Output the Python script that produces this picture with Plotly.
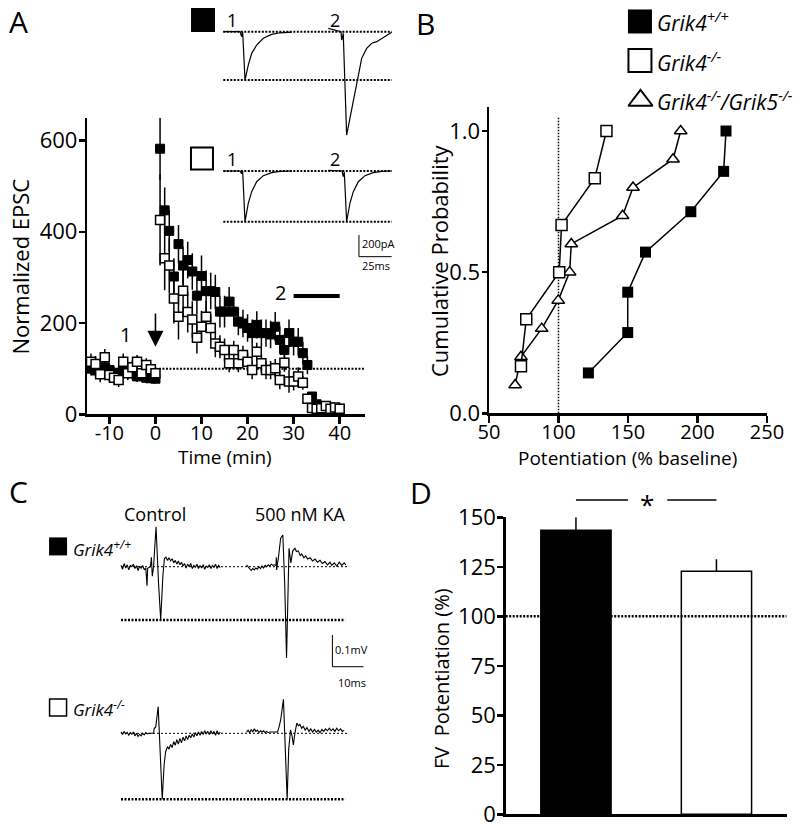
import plotly.graph_objects as go

W, H = 800, 827          # browser window (reference pixel space)
OFF = 0                  # body margin removed by post_script below
FW, FH = W - OFF, H - OFF
FONT = "Open Sans"

# ---------------- DATA ----------------
# Panel A: normalized EPSC time course
a_time_base = [-14, -13, -12, -11, -10, -9, -8, -7, -6, -5, -4, -3, -2, -1, 0]
a_time_post = list(range(1, 41))
a_wt_base = [100, 96, 92, 103, 97, 90, 91, 99, 94, 90, 83, 88, 80, 79, 78]
a_wt_base_err = [15, 15, 15, 15, 15, 15, 15, 15, 15, 15, 12, 12, 12, 10, 10]
a_wt_post = [582, 447, 402, 302, 373, 326, 338, 313, 260, 303, 270, 270, 268, 225,
             225, 247, 225, 203, 199, 189, 178, 196, 178, 178, 175, 192, 163, 141,
             178, 159, 159, 134, 108, 39, 22, 12, 8, 15, 8, 12]
a_wt_post_err = [68, 50, 45, 40, 42, 42, 40, 40, 40, 45, 45, 40, 38, 35, 35, 32,
                 32, 30, 30, 30, 30, 30, 30, 30, 30, 32, 30, 35, 30, 30, 30, 25,
                 20, 10, 8, 8, 8, 8, 8, 8]
a_ko_base = [115, 110, 88, 125, 86, 80, 75, 115, 90, 103, 115, 90, 108, 99, 90]
a_ko_base_err = [18, 18, 18, 18, 15, 15, 15, 18, 15, 15, 15, 15, 15, 12, 12]
a_ko_post = [426, 342, 326, 254, 214, 271, 224, 208, 168, 192, 214, 189, 155, 148,
             141, 112, 141, 112, 130, 115, 97, 137, 112, 97, 97, 101, 75, 113, 72,
             72, 83, 69, 34, 14, 12, 13, 18, 12, 15, 12]
a_ko_post_err = [100, 70, 60, 55, 50, 50, 45, 40, 35, 35, 35, 30, 30, 25, 25, 20,
                 20, 20, 20, 20, 20, 20, 20, 20, 20, 20, 20, 20, 25, 20, 20, 15,
                 10, 8, 8, 8, 8, 8, 8, 8]
a_baseline_level = 100
a_period2 = [30, 40]
a_ticks_x = [-10, 0, 10, 20, 30, 40]
a_ticktext_x = ["-10", "0", "10", "20", "30", "40"]
a_ticks_y = [0, 200, 400, 600]

# Panel A insets: example EPSC traces (ms, pA)
ins_wt1_t = [0, 12.8, 14.0, 14.8, 16.6, 19.1, 21.7, 25.5, 30.6, 37.0, 43.3, 52.3]
ins_wt1_i = [0, 0, -46, 0, -446, -308, -200, -123, -61, -25, -10, -4]
ins_wt2_t = [80.3, 85, 90.0, 90.5, 91.7, 94.3, 98.2, 102.0, 105.8, 109.6, 113.5,
             117.3, 121.1, 124.9, 128.7]
ins_wt2_i = [31, 15, 0, -77, -15, -954, -723, -477, -246, -154, -107, -92, -61, -31, -6]
ins_ko1_t = [0, 12.8, 14.0, 14.8, 16.6, 19.1, 21.7, 25.5, 30.6, 37.0, 43.3, 52.3]
ins_ko1_i = [0, 0, -25, 0, -468, -298, -191, -99, -43, -15, -3, 0]
ins_ko2_t = [80.3, 86, 90.8, 91.7, 92.5, 94.3, 96.8, 99.4, 103.2, 108.3, 114.6, 121.1, 128.7]
ins_ko2_i = [6, 2, 0, -52, -10, -468, -298, -191, -99, -43, -15, -3, 0]

# Panel B: cumulative probability
b_wt_x = [121.5, 149.8, 149.8, 162.6, 195.2, 218.8, 220.5]
b_wt_y = [0.143, 0.286, 0.429, 0.571, 0.714, 0.857, 1.0]
b_ko_x = [73.0, 76.8, 100.5, 102.2, 126.1, 134.5]
b_ko_y = [0.167, 0.333, 0.5, 0.667, 0.833, 1.0]
b_dko_x = [68.8, 73.0, 87.9, 99.8, 108.0, 109.2, 146.1, 153.6, 182.4, 187.9]
b_dko_y = [0.1, 0.2, 0.3, 0.4, 0.5, 0.6, 0.7, 0.8, 0.9, 1.0]
b_ticks_x = [50, 100, 150, 200, 250]
b_ticks_y = [0.0, 0.5, 1.0]

# Panel C: fiber volley traces (ms, mV)
c_wt_ctrl_t = [0, 0.5, 1, 1.5, 2, 2.5, 3, 3.5, 4, 4.5, 5, 5.5, 6, 6.5, 7, 7.5, 8, 8.4, 8.6,
               9.5, 9.8, 10.1, 10.5, 11.3, 12.1, 12.8, 13.5, 14.0, 14.5, 15, 15.5, 16, 16.5,
               17, 17.5, 18, 18.5, 19, 19.5, 20, 20.5, 21, 21.5, 22, 22.5, 23, 23.5, 24,
               24.5, 25, 25.5, 26, 26.5, 27, 27.5, 28, 28.5, 29, 29.5, 30, 30.5, 31, 31.5, 32]
c_wt_ctrl_v = [0.005, -0.008, 0.01, -0.004, 0.006, -0.01, 0.004, 0.0, 0.008, -0.006, 0.003,
               -0.012, 0.002, -0.005, 0.004, -0.01, -0.004, -0.06, -0.005, 0.0, 0.03, -0.03,
               0.0, 0.126, -0.05, -0.168, -0.03, 0.026, 0.03, 0.02, 0.028, 0.018, 0.025,
               0.012, 0.02, 0.008, 0.018, 0.006, 0.014, 0.002, 0.01, -0.004, 0.008, 0.0,
               0.01, -0.006, 0.004, -0.002, 0.008, -0.006, 0.004, -0.004, 0.006, -0.008,
               0.002, -0.002, 0.006, -0.006, 0.004, -0.002, 0.008, -0.006, 0.004, -0.003]
c_wt_ka_t = [40.5, 41, 41.5, 42, 42.5, 43, 43.5, 44, 44.5, 45, 45.5, 46, 46.5, 47, 47.5, 48,
             48.5, 49, 49.5, 50.0, 50.1, 50.2, 50.4, 50.8, 51.5, 52.2, 52.8, 53.4, 53.8,
             54.2, 54.8, 55.4, 56.1, 56.6, 57.2, 57.8, 58.3, 59, 59.6, 60.2, 61, 61.8, 62.6,
             63.4, 64.2, 65, 65.8, 66.6, 67.4, 68, 68.8, 69.6, 70.4, 71.2, 72, 72.5]
c_wt_ka_v = [0.006, 0.0, -0.004, -0.012, -0.006, -0.01, -0.004, -0.008, 0.0, -0.006, 0.002,
             -0.004, 0.004, 0.0, 0.006, 0.002, 0.008, 0.004, 0.006, 0.004, 0.03, -0.01, 0.005,
             0.03, 0.09, 0.1, -0.05, -0.288, -0.1, 0.058, 0.012, 0.05, 0.058, 0.048, 0.05,
             0.035, 0.04, 0.028, 0.034, 0.024, 0.028, 0.018, 0.024, 0.014, 0.02, 0.01, 0.016,
             0.006, 0.014, 0.004, 0.012, 0.002, 0.014, 0.004, 0.012, 0.006]
c_ko_ctrl_t = [0, 0.5, 1, 1.5, 2, 2.5, 3, 3.5, 4, 4.5, 5, 5.5, 6, 6.5, 7, 7.5, 8, 8.5, 9,
               10.5, 10.7, 11.2, 12, 12.6, 13.3, 13.9, 14.4, 15, 15.5, 16, 16.5, 17, 17.5,
               18, 18.5, 19, 19.5, 20, 20.5, 21, 21.5, 22, 22.5, 23, 23.5, 24, 24.5, 25,
               25.5, 26, 26.5, 27, 27.5, 28, 28.5, 29, 29.5, 30, 30.5, 31, 31.5, 32]
c_ko_ctrl_v = [0.004, -0.004, 0.006, -0.002, 0.003, -0.006, 0.002, -0.003, 0.004, -0.008,
               0.0, -0.01, -0.003, -0.008, 0.0, -0.005, 0.002, -0.002, 0.0, 0.0, 0.015, 0.02,
               0.084, -0.05, -0.208, -0.1, -0.058, -0.042, -0.05, -0.035, -0.045, -0.026,
               -0.038, -0.02, -0.034, -0.016, -0.03, -0.012, -0.024, -0.008, -0.02, -0.006,
               -0.014, -0.002, -0.012, 0.002, -0.008, 0.004, -0.006, 0.006, -0.004, 0.008,
               -0.002, 0.006, -0.004, 0.008, -0.002, 0.006, -0.006, 0.008, -0.004, 0.004]
c_ko_ka_t = [40.5, 41, 41.5, 42, 42.5, 43, 43.5, 44, 44.5, 45, 45.5, 46, 46.5, 47, 47.5, 48,
             49, 50.5, 51, 51.5, 52.4, 53, 53.6, 54.1, 54.7, 55.2, 55.6, 56.1, 56.7, 57.2,
             57.7, 58.3, 58.8, 59.4, 60, 60.6, 61.2, 61.8, 62.4, 63, 63.6, 64.2, 64.8, 65.4,
             66, 66.6, 67.2, 67.8, 68.4, 69, 69.6, 70.2, 70.8, 71.4, 72]
c_ko_ka_v = [0.004, 0.01, 0.002, 0.012, 0.004, 0.014, 0.006, 0.01, 0.002, 0.008, 0.004,
             0.008, 0.002, 0.006, 0.002, 0.004, 0.004, 0.004, 0.02, 0.042, 0.107, -0.05,
             -0.208, -0.05, 0.011, -0.01, -0.037, 0.0, 0.032, 0.024, 0.028, 0.016, 0.022,
             0.01, 0.018, 0.006, 0.014, 0.004, 0.012, 0.004, 0.01, 0.002, 0.012, 0.006,
             0.014, 0.008, 0.016, 0.008, 0.014, 0.006, 0.016, 0.008, 0.014, 0.006, 0.01]

# Panel D: FV potentiation
d_pos = [1, 3]
d_mean = [143.4, 122.7]
d_sem = [6.6, 6.1]
d_ticks_y = [0, 25, 50, 75, 100, 125, 150]

# ---------------- FIGURE ----------------
fig = go.Figure()
layout = {}


def dom_x(x0, x1):
    return [max(0.0, (x0 - OFF) / FW), min(1.0, (x1 - OFF) / FW)]


def dom_y(yt, yb):
    return [max(0.0, 1 - (yb - OFF) / FH), min(1.0, 1 - (yt - OFF) / FH)]


def hidden_axes(n, x0, x1, yt, yb, ox, sx, oy, sy):
    x0, x1 = max(x0, OFF), min(x1, W)
    yt, yb = max(yt, OFF), min(yb, H)
    layout[f"xaxis{n}"] = dict(domain=dom_x(x0, x1), range=[(x0 - ox) / sx, (x1 - ox) / sx],
                               visible=False, anchor=f"y{n}", fixedrange=True, automargin=False)
    layout[f"yaxis{n}"] = dict(domain=dom_y(yt, yb), range=[(oy - yb) / sy, (oy - yt) / sy],
                               visible=False, anchor=f"x{n}", fixedrange=True, automargin=False)


def vis_axis(**kw):
    d = dict(showline=True, linecolor="black", linewidth=2.5, ticks="outside", ticklen=7,
             tickwidth=2.5, tickcolor="black", showgrid=False, zeroline=False, automargin=False,
             ticklabeloverflow="allow",
             tickfont=dict(family=FONT, size=20, color="black"), fixedrange=True)
    d.update(kw)
    return d


# Panel A axes
layout["xaxis"] = vis_axis(domain=dom_x(87.3, 365), range=[-14.8, 45.5], tickvals=a_ticks_x,
                           ticktext=a_ticktext_x, anchor="y", ticklabelstandoff=-8,
                           tickfont=dict(family=FONT, size=20, color="black"))
layout["yaxis"] = vis_axis(domain=dom_y(117.7, 414.3), range=[0, 650], tickvals=a_ticks_y,
                           anchor="x", ticklen=6, ticklabelstandoff=-3,
                           tickfont=dict(family=FONT, size=22, color="black"))
# Panel B axes
layout["xaxis2"] = vis_axis(domain=dom_x(489, 767), range=[50, 250], tickvals=b_ticks_x,
                            anchor="y2", ticklabelstandoff=-8,
                            tickfont=dict(family=FONT, size=20, color="black"))
layout["yaxis2"] = vis_axis(domain=dom_y(107, 413.3), range=[0, 1.085], tickvals=b_ticks_y,
                            ticktext=["0.0", "0.5", "1.0"], anchor="x2", ticklen=5,
                            ticklabelstandoff=-3,
                            tickfont=dict(family=FONT, size=22, color="black"))
# Panel D axes
layout["xaxis3"] = vis_axis(domain=dom_x(505.7, 786.7), range=[0, 4], ticks="",
                            showticklabels=False, anchor="y3")
layout["yaxis3"] = vis_axis(domain=dom_y(517.3, 814.3), range=[0, 150], tickvals=d_ticks_y,
                            anchor="x3", ticklen=6, ticklabelstandoff=-3,
                            tickfont=dict(family=FONT, size=22, color="black"))
# Overlay axes (invisible, same physical scales as the marks they hold)
hidden_axes(4, 505.7, 786.7, 470, 814.3, 505.7, 70.25, 814.3, 1.98)      # D significance
hidden_axes(5, 180, 395, 2, 140, 223.3, 1.308, 31.7, 0.1083)             # A inset wt
hidden_axes(6, 180, 400, 140, 280, 223.3, 1.308, 171, 0.1083)            # A inset ko + scale
hidden_axes(7, 40, 370, 520, 695, 121, 3.1, 566.7, 317)                  # C row 1 + scale
hidden_axes(8, 40, 370, 690, 810, 121, 3.1, 733.3, 317)                  # C row 2
hidden_axes(9, 489, 800, 2, 115, 489, 1.39, 413.3, 282.3)                # B legend
layout["xaxis9"]["range"] = [50, 50 + (800 - 489) / 1.39]

BLK = "black"
dotted = "2px,1.5px"

# ---- Panel A traces ----
fig.add_trace(go.Scatter(x=[0, 45.5], y=[a_baseline_level] * 2, mode="lines",
                         line=dict(color=BLK, width=2, dash=dotted), xaxis="x", yaxis="y"))
fig.add_trace(go.Scatter(x=a_time_base + a_time_post, y=a_wt_base + a_wt_post, mode="markers",
                         error_y=dict(type="data", array=a_wt_base_err + a_wt_post_err,
                                      color=BLK, thickness=1.5, width=0),
                         marker=dict(symbol="square", size=9, color=BLK, line=dict(color=BLK, width=1)),
                         cliponaxis=False, xaxis="x", yaxis="y"))
fig.add_trace(go.Scatter(x=a_time_base + a_time_post, y=a_ko_base + a_ko_post, mode="markers",
                         error_y=dict(type="data", array=a_ko_base_err + a_ko_post_err,
                                      color=BLK, thickness=1.5, width=0),
                         marker=dict(symbol="square", size=9, color="white", line=dict(color=BLK, width=1.5)),
                         cliponaxis=False, xaxis="x", yaxis="y"))
fig.add_trace(go.Scatter(x=a_period2, y=[259, 259], mode="lines", line=dict(color=BLK, width=4),
                         xaxis="x", yaxis="y"))

# A insets
for n, (t1, i1, t2, i2) in zip([5, 6], [(ins_wt1_t, ins_wt1_i, ins_wt2_t, ins_wt2_i),
                                        (ins_ko1_t, ins_ko1_i, ins_ko2_t, ins_ko2_i)]):
    peak = min(i1)
    fig.add_trace(go.Scatter(x=[0, 128.8, None, 0, 128.8], y=[0, 0, None, peak, peak], mode="lines",
                             line=dict(color=BLK, width=2, dash=dotted),
                             xaxis=f"x{n}", yaxis=f"y{n}"))
    fig.add_trace(go.Scatter(x=t1 + [None] + t2, y=i1 + [None] + i2, mode="lines",
                             line=dict(color=BLK, width=1.2), xaxis=f"x{n}", yaxis=f"y{n}"))
fig.add_trace(go.Scatter(x=[-15.5], y=[108], mode="markers",
                         marker=dict(symbol="square", size=24, color=BLK), xaxis="x5", yaxis="y5"))
fig.add_trace(go.Scatter(x=[-16.3], y=[115], mode="markers",
                         marker=dict(symbol="square", size=22, color="white", line=dict(color=BLK, width=2)),
                         xaxis="x6", yaxis="y6"))
# A scale bar (200 pA, 25 ms)
fig.add_trace(go.Scatter(x=[103.7, 103.7, 128.7], y=[-591, -791, -791], mode="lines",
                         line=dict(color=BLK, width=1), xaxis="x6", yaxis="y6"))

# ---- Panel B traces ----
fig.add_trace(go.Scatter(x=[100, 100], y=[0, 1.05], mode="lines",
                         line=dict(color=BLK, width=1.5, dash="1.5px,1.5px"), xaxis="x2", yaxis="y2"))
fig.add_trace(go.Scatter(x=b_wt_x, y=b_wt_y, mode="lines+markers", line=dict(color=BLK, width=1.5),
                         marker=dict(symbol="square", size=11, color=BLK), cliponaxis=False,
                         xaxis="x2", yaxis="y2"))
fig.add_trace(go.Scatter(x=b_dko_x, y=b_dko_y, mode="lines+markers", line=dict(color=BLK, width=1.5),
                         marker=dict(symbol="triangle-up", size=11, color="white", line=dict(color=BLK, width=1.5)),
                         cliponaxis=False, xaxis="x2", yaxis="y2"))
fig.add_trace(go.Scatter(x=b_ko_x, y=b_ko_y, mode="lines+markers", line=dict(color=BLK, width=1.5),
                         marker=dict(symbol="square", size=11, color="white", line=dict(color=BLK, width=1.5)),
                         cliponaxis=False, xaxis="x2", yaxis="y2"))
# B legend symbols
fig.add_trace(go.Scatter(x=[158.6], y=[1.388], mode="markers",
                         marker=dict(symbol="square", size=24, color=BLK), xaxis="x9", yaxis="y9"))
fig.add_trace(go.Scatter(x=[158.6], y=[1.250], mode="markers",
                         marker=dict(symbol="square", size=23, color="white", line=dict(color=BLK, width=2)),
                         xaxis="x9", yaxis="y9"))
fig.add_trace(go.Scatter(x=[159.0], y=[1.108], mode="markers",
                         marker=dict(symbol="triangle-up", size=21, color="white", line=dict(color=BLK, width=2)),
                         xaxis="x9", yaxis="y9"))

# ---- Panel C traces ----
for n, (ct, cv, kt, kv) in zip([7, 8], [(c_wt_ctrl_t, c_wt_ctrl_v, c_wt_ka_t, c_wt_ka_v),
                                        (c_ko_ctrl_t, c_ko_ctrl_v, c_ko_ka_t, c_ko_ka_v)]):
    trough = min(cv)
    fig.add_trace(go.Scatter(x=[0, 72.9], y=[0, 0], mode="lines",
                             line=dict(color=BLK, width=1, dash="2px,2px"), xaxis=f"x{n}", yaxis=f"y{n}"))
    fig.add_trace(go.Scatter(x=[0, 72.3], y=[trough, trough], mode="lines",
                             line=dict(color=BLK, width=2.5, dash="2px,1.5px"), xaxis=f"x{n}", yaxis=f"y{n}"))
    fig.add_trace(go.Scatter(x=ct + [None] + kt, y=cv + [None] + kv, mode="lines",
                             line=dict(color=BLK, width=1.1), xaxis=f"x{n}", yaxis=f"y{n}"))
fig.add_trace(go.Scatter(x=[-20.3], y=[0.064], mode="markers",
                         marker=dict(symbol="square", size=18, color=BLK), xaxis="x7", yaxis="y7"))
fig.add_trace(go.Scatter(x=[-20.3], y=[0.081], mode="markers",
                         marker=dict(symbol="square", size=17, color="white", line=dict(color=BLK, width=1.5)),
                         xaxis="x8", yaxis="y8"))
# C scale bar (0.1 mV, 10 ms)
fig.add_trace(go.Scatter(x=[68.2, 68.2, 78.2], y=[-0.2155, -0.3155, -0.3155], mode="lines",
                         line=dict(color=BLK, width=1), xaxis="x7", yaxis="y7"))

# ---- Panel D traces ----
fig.add_trace(go.Bar(x=d_pos, y=d_mean, width=1.0,
                     marker=dict(color=[BLK, "white"], line=dict(color=BLK, width=1.5)),
                     error_y=dict(type="data", symmetric=False, array=d_sem, arrayminus=[0, 0],
                                  color=BLK, thickness=1.5, width=0),
                     xaxis="x3", yaxis="y3"))
fig.add_trace(go.Scatter(x=[0, 4], y=[100, 100], mode="lines", line=dict(color=BLK, width=2.5, dash="2px,1.5px"),
                         xaxis="x3", yaxis="y3"))
fig.add_trace(go.Scatter(x=[1.0, 1.74, None, 2.30, 3.0], y=[158.7, 158.7, None, 158.7, 158.7], mode="lines",
                         line=dict(color=BLK, width=1.5), xaxis="x4", yaxis="y4"))

# ---------------- ANNOTATIONS ----------------
ann = []


def txt(text, x, y, size, xref="paper", yref="paper", xanchor="center", yanchor="middle", angle=0):
    if xref == "paper":
        x = (x - OFF) / FW
    if yref == "paper":
        y = 1 - (y - OFF) / FH
    ann.append(dict(text=text, x=x, y=y, xref=xref, yref=yref, xanchor=xanchor, yanchor=yanchor,
                    showarrow=False, textangle=angle, borderpad=0,
                    font=dict(family=FONT, size=size, color="black")))


# panel letters
txt("A", 18, 21, 30)
txt("B", 425, 23, 30)
txt("C", 18, 491, 30)
txt("D", 421, 492, 30)
# axis titles
txt("Normalized EPSC", 19.5, 267, 22, angle=-90)
txt("Time (min)", 225, 457, 19)
txt("Cumulative Probability", 439, 260, 22, angle=-90)
txt("Potentiation (% baseline)", 627, 458, 19)
txt("FV  Potentiation (%)", 441, 679, 20, angle=-90)
# panel A labels
txt("1", -6.6, 174, 20, xref="x", yref="y")
txt("2", 27.1, 268, 20, xref="x", yref="y")
txt("1", 6.7, 108, 18, xref="x5", yref="y5")
txt("2", 85.4, 108, 18, xref="x5", yref="y5")
txt("1", 6.7, 111, 18, xref="x6", yref="y6")
txt("2", 85.4, 111, 18, xref="x6", yref="y6")
txt("200pA", 119, -674, 11, xref="x6", yref="y6")
txt("25ms", 116.7, -877, 11, xref="x6", yref="y6")
ann.append(dict(x=0, y=148, ax=0, ay=224, xref="x", yref="y", axref="x", ayref="y", text="",
                showarrow=True, arrowhead=2, arrowsize=2, arrowwidth=1.6, arrowcolor=BLK, standoff=0))
# panel B legend
txt("<i>Grik4<sup>+/+</sup></i>", 656, 22, 21, xanchor="left")
txt("<i>Grik4<sup>-/-</sup></i>", 656, 61, 21, xanchor="left")
txt("<i>Grik4<sup>-/-</sup>/Grik5<sup>-/-</sup></i>", 656, 100, 21, xanchor="left")
# panel C labels
txt("Control", 155, 514, 18)
txt("500 nM KA", 300, 514, 18)
txt("<i>Grik4<sup>+/+</sup></i>", 72, 548, 17, xanchor="left")
txt("<i>Grik4<sup>-/-</sup></i>", 72, 708, 17, xanchor="left")
txt("0.1mV", 351, 649, 11)
txt("10ms", 352, 682, 11)
# panel D significance
txt("*", 2.01, 156.5, 26, xref="x4", yref="y4")

layout["annotations"] = ann
layout.update(dict(template="none", width=FW, height=FH,
                   margin=dict(l=0, r=0, t=0, b=0, autoexpand=False),
                   showlegend=False, plot_bgcolor="rgba(0,0,0,0)", paper_bgcolor="white", bargap=0,
                   hovermode=False, font=dict(family=FONT, color="black")))
fig.update_layout(**layout)
fig.write_html("out.html",
               config={"displayModeBar": False, "staticPlot": True},
               post_script="document.body.style.margin='0';document.body.style.overflow='hidden';")
